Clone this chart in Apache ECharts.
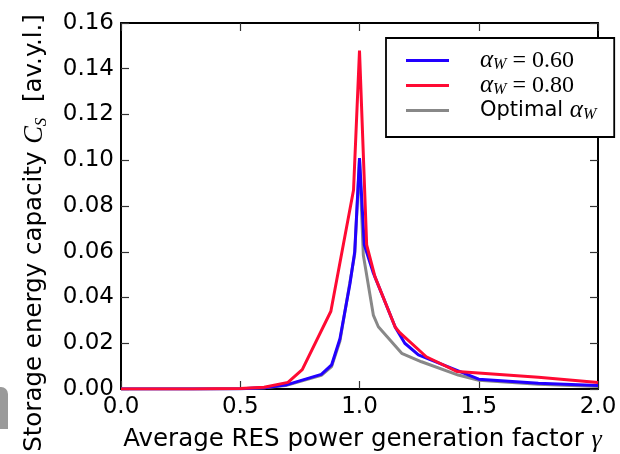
<!DOCTYPE html>
<html>
<head>
<meta charset="utf-8">
<script src="https://cdn.jsdelivr.net/npm/echarts@6/dist/echarts.min.js"></script>
<style>
  html, body { margin: 0; padding: 0; background: #fff; }
  #chart { width: 620px; height: 454px; }
</style>
</head>
<body>
<div id="chart"></div>
<script>
// Storage energy capacity C_S versus average RES generation factor gamma

// alpha_W = 0.60
const gammaA060 = [0, 0.3, 0.5, 0.6, 0.69, 0.84, 0.883, 0.918, 0.96, 0.98, 1.0, 1.02, 1.057, 1.15, 1.19, 1.247, 1.5, 1.75, 2.0];
const capA060   = [0, 0, 0.0001, 0.0005, 0.0017, 0.0064, 0.0105, 0.022, 0.046, 0.060, 0.101, 0.063, 0.051, 0.027, 0.020, 0.0149, 0.0043, 0.0025, 0.0015];

// alpha_W = 0.80
const gammaA080 = [0, 0.3, 0.5, 0.6, 0.7, 0.76, 0.88, 0.975, 1.0, 1.03, 1.065, 1.15, 1.17, 1.28, 1.41, 1.75, 2.0];
const capA080   = [0, 0, 0.0002, 0.0008, 0.0029, 0.0085, 0.034, 0.087, 0.148, 0.063, 0.049, 0.027, 0.0245, 0.0141, 0.0076, 0.0051, 0.0028];

// optimal alpha_W
const gammaOpt = [0, 0.3, 0.5, 0.6, 0.69, 0.84, 0.883, 0.918, 0.98, 1.0, 1.016, 1.058, 1.079, 1.177, 1.26, 1.414, 1.5, 1.75, 2.0];
const capOpt   = [0, 0, 0.0001, 0.0005, 0.0015, 0.006, 0.0098, 0.021, 0.059, 0.100, 0.0586, 0.0323, 0.0272, 0.0156, 0.0119, 0.0061, 0.0038, 0.0021, 0.0011];

const xTickFmt = v => v.toFixed(1);
const yTickFmt = v => v.toFixed(2);

const pairs = (xs, ys) => xs.map((x, i) => [x, ys[i]]);

const sans = 'DejaVu Sans';
const serif = 'Liberation Serif';

const frameLine = { show: true, onZero: false, lineStyle: { color: '#000', width: 2 } };
const innerTick = { show: true, inside: true, length: 8, lineStyle: { color: '#333', width: 1.2 } };

const chart = echarts.init(document.getElementById('chart'), null, { renderer: 'canvas' });

chart.setOption({
  animation: false,
  backgroundColor: '#fff',
  grid: { left: 121, right: 22, top: 23, bottom: 65, outerBoundsMode: 'none', containLabel: false },
  xAxis: [
    {
      type: 'value', min: 0, max: 2, interval: 0.5, position: 'bottom',
      axisLine: frameLine, axisTick: innerTick, splitLine: { show: false },
      axisLabel: { formatter: xTickFmt, fontSize: 23, fontFamily: sans, color: '#000', margin: 7 },
      name: 'Average RES power generation factor {g|γ}',
      nameLocation: 'middle', nameGap: 38,
      nameTextStyle: {
        fontSize: 24.5, fontFamily: sans, color: '#000', padding: [0, 0, 0, 6],
        rich: { g: { fontSize: 26, fontFamily: serif, fontStyle: 'italic', color: '#000' } }
      }
    },
    {
      type: 'value', min: 0, max: 2, interval: 0.5, position: 'top',
      axisLine: frameLine, axisTick: innerTick, splitLine: { show: false },
      axisLabel: { show: false }
    }
  ],
  yAxis: [
    {
      type: 'value', min: 0, max: 0.16, interval: 0.02, position: 'left',
      axisLine: frameLine, axisTick: innerTick, splitLine: { show: false },
      axisLabel: { formatter: yTickFmt, fontSize: 23, fontFamily: sans, color: '#000', margin: 7 },
      name: 'Storage energy capacity {c|C}{s|S}  [av.y.l.]',
      nameLocation: 'middle', nameGap: 71, nameRotate: 90,
      nameTextStyle: {
        fontSize: 24.5, fontFamily: sans, color: '#000', padding: [0, 54, 0, 0], lineHeight: 30,
        rich: {
          c: { fontSize: 26.5, fontFamily: serif, fontStyle: 'italic', color: '#000', lineHeight: 30 },
          s: { fontSize: 17, fontFamily: serif, fontStyle: 'italic', color: '#000', lineHeight: 16, verticalAlign: 'bottom' }
        }
      }
    },
    {
      type: 'value', min: 0, max: 0.16, interval: 0.02, position: 'right',
      axisLine: frameLine, axisTick: innerTick, splitLine: { show: false },
      axisLabel: { show: false }
    }
  ],
  legend: {
    orient: 'vertical',
    left: 386, top: 38,
    data: ['a060', 'a080', 'opt'],
    icon: 'rect',
    backgroundColor: '#fff',
    borderColor: '#000', borderWidth: 1.8, borderRadius: 0,
    padding: [10, 18, 14, 20],
    itemWidth: 43, itemHeight: 3, itemGap: 0,
    formatter: name => ({
      a060: '{a|α}{w|W}{t| = 0.60}',
      a080: '{a|α}{w|W}{t| = 0.80}',
      opt: '{o|Optimal }{a|α}{w|W}'
    })[name],
    textStyle: {
      padding: [0, 0, 0, 26], lineHeight: 25,
      rich: {
        a: { fontSize: 25, fontFamily: serif, fontStyle: 'italic', color: '#000', lineHeight: 25 },
        w: { fontSize: 16, fontFamily: serif, fontStyle: 'italic', color: '#000', lineHeight: 14, verticalAlign: 'bottom' },
        t: { fontSize: 24, fontFamily: serif, color: '#000', lineHeight: 25 },
        o: { fontSize: 21, fontFamily: sans, color: '#000', lineHeight: 25 }
      }
    }
  },
  graphic: [
    {
      type: 'rect', left: -6, top: 387, z: 10,
      shape: { width: 14, height: 42, r: [0, 7, 0, 0] },
      style: { fill: '#9a9a9a' }
    }
  ],
  series: [
    {
      name: 'opt', type: 'line', z: 2,
      data: pairs(gammaOpt, capOpt),
      symbol: 'none', showSymbol: false,
      lineStyle: { color: '#888888', width: 3 },
      itemStyle: { color: '#888888' }
    },
    {
      name: 'a060', type: 'line', z: 3,
      data: pairs(gammaA060, capA060),
      symbol: 'none', showSymbol: false,
      lineStyle: { color: '#2200ff', width: 3 },
      itemStyle: { color: '#2200ff' }
    },
    {
      name: 'a080', type: 'line', z: 4,
      data: pairs(gammaA080, capA080),
      symbol: 'none', showSymbol: false,
      lineStyle: { color: '#ff0a33', width: 3 },
      itemStyle: { color: '#ff0a33' }
    }
  ]
});
</script>
</body>
</html>
